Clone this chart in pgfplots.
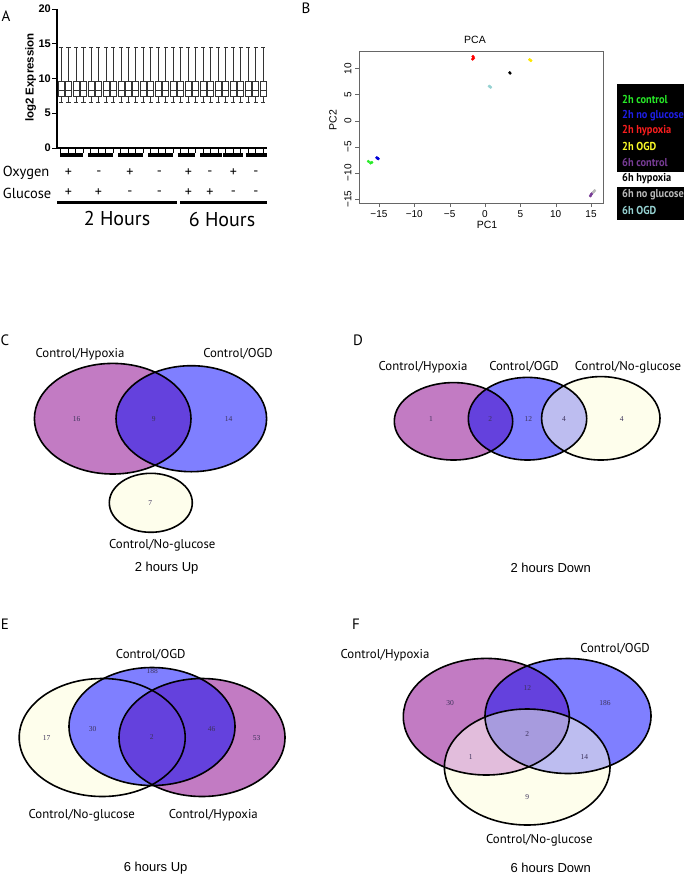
\documentclass[border=0pt]{standalone}
\usepackage{pgfplots}
\pgfplotsset{compat=1.18}
\usepgfplotslibrary{statistics}
\usepackage{fontspec}
\setmainfont{Liberation Sans}
\newfontfamily\myr{PT Sans}
\newfontfamily\tms{Liberation Serif}
\definecolor{vpink}{RGB}{194,123,195}
\definecolor{vblue}{RGB}{127,127,255}
\definecolor{vdark}{RGB}{100,65,221}
\definecolor{vyel}{RGB}{254,254,236}
\definecolor{vby}{RGB}{189,189,240}
\definecolor{vpy}{RGB}{226,189,220}
\definecolor{vall}{RGB}{167,155,222}
\definecolor{vnum}{RGB}{60,50,90}
\definecolor{lgreen}{RGB}{40,235,40}
\definecolor{lblue}{RGB}{30,30,230}
\definecolor{lred}{RGB}{250,30,30}
\definecolor{lyel}{RGB}{250,250,40}
\definecolor{lpur}{RGB}{120,60,150}
\definecolor{lgrey}{RGB}{185,185,185}
\definecolor{lcyan}{RGB}{150,210,210}
\newcommand\lf{\myr\bfseries\fontsize{11.5}{12}\selectfont}
\newcommand\hfnt{\fontsize{13}{14}\selectfont}
\tikzset{
  pl/.style={font=\myr\fontsize{15}{16}\selectfont},
  vl/.style={font=\myr\fontsize{12.8}{14}\selectfont},
  vn/.style={font=\tms\fontsize{7.5}{8}\selectfont, text=vnum},
}
\begin{document}
\begin{tikzpicture}[x=1pt,y=1pt]
\useasboundingbox (0,0) rectangle (684,-875);

% ---------- Panel A ----------
\begin{axis}[at={(57pt,-148pt)}, anchor=south west, scale only axis,
  width=210pt, height=139pt, xmin=0.47, xmax=28.5, ymin=0, ymax=20,
  axis lines*=left, axis line style={line width=1.2pt,-},
  xtick={1,...,28}, xticklabels={}, ytick={0,5,10,15,20},
  tick align=outside, major tick length=5pt,
  tick style={line width=1pt,black},
  yticklabel style={font=\fontsize{11}{12}\selectfont\bfseries, inner sep=1pt},
  /pgf/number format/assume math mode=true, clip=false]
\pgfplotsinvokeforeach{1,...,28}{
\addplot[black!80, line width=0.8pt, boxplot prepared={draw position=#1,
  draw direction=y, box extend=0.8, whisker extend=0.55,
  median=8.35, upper quartile=9.55, lower quartile=7.48,
  upper whisker=14.45, lower whisker=6.62}] coordinates {};
}
\end{axis}
\node[pl] at (6,-16) {A};
\node[rotate=90, font=\fontsize{11.5}{12}\selectfont\bfseries] at (30.7,-77.5) {log2 Expression};
\foreach \a/\b in {60/83.3, 88.3/113.3, 118.3/143.3, 148.3/173.3, 177.7/195, 200/221.7, 223.3/243.3, 245.7/266.7}
  \draw[line width=3.5pt] (\a,-155) -- (\b,-155);
\draw[line width=3pt] (57,-202) -- (177,-202);
\draw[line width=3pt] (180,-202) -- (267,-202);
\node[anchor=west, font=\myr\fontsize{14.5}{15}\selectfont, inner sep=0] at (2.7,-173) {Oxygen};
\node[anchor=west, font=\myr\fontsize{14.5}{15}\selectfont, inner sep=0] at (2.7,-193) {Glucose};
\foreach \x/\s in {68.3/+, 99/-, 130/+, 159.3/-, 188.3/+, 210/-, 233.3/+, 256/-}
  \node[font=\myr\fontsize{14}{15}\selectfont] at (\x,-173) {\s};
\foreach \x/\s in {68.3/+, 98.3/+, 130/-, 159.3/-, 188.3/+, 210/+, 233.3/-, 256/-}
  \node[font=\myr\fontsize{14}{15}\selectfont] at (\x,-193) {\s};
\node[font=\myr\fontsize{20}{22}\selectfont] at (117,-218.3) {2 Hours};
\node[font=\myr\fontsize{20}{22}\selectfont] at (222,-219.3) {6 Hours};

% ---------- Panel B ----------
\begin{axis}[at={(359pt,-203pt)}, anchor=south west, scale only axis,
  width=244pt, height=152pt, xmin=-17.82, xmax=16.69, ymin=-15.77, ymax=13.35,
  axis line style={black!60}, tick align=outside, tick pos=left,
  major tick length=4pt, tick style={black!60},
  xtick={-15,-10,...,15}, ytick={-15,-10,...,10},
  xticklabels={−15,−10,−5,0,5,10,15},
  yticklabels={−15,−10,−5,0,5,10},
  yticklabel style={rotate=90, anchor=south},
  ticklabel style={font=\fontsize{10}{11}\selectfont}]
\addplot[only marks, mark=*, mark size=1.3pt, color=lgreen] coordinates {(-16.5,-7.8) (-16.2,-8.1) (-16.0,-8.0)};
\addplot[only marks, mark=*, mark size=1.3pt, color=blue!85!black] coordinates {(-15.3,-7.1) (-15.1,-7.3) (-15.2,-7.2)};
\addplot[only marks, mark=*, mark size=1.3pt, color=red] coordinates {(-1.7,12.3) (-1.75,11.8) (-1.6,12.0)};
\addplot[only marks, mark=*, mark size=1.3pt, color=yellow!90!orange] coordinates {(6.4,11.6) (6.5,11.5) (6.3,11.7)};
\addplot[only marks, mark=*, mark size=1.3pt, color=lpur] coordinates {(15.0,-14.2) (15.1,-14.0) (14.9,-14.4)};
\addplot[only marks, mark=*, mark size=1.3pt, color=black] coordinates {(3.5,9.2) (3.55,9.1)};
\addplot[only marks, mark=*, mark size=1.3pt, color=lgrey] coordinates {(15.4,-13.6) (15.5,-13.4) (15.3,-13.7)};
\addplot[only marks, mark=*, mark size=1.3pt, color=lcyan] coordinates {(0.6,6.6) (0.8,6.4) (0.7,6.5)};
\end{axis}
\node[pl] at (306,-8) {B};
\node[font=\fontsize{10.5}{11}\selectfont] at (475,-40) {PCA};
\node[font=\fontsize{10.5}{11}\selectfont] at (487,-225) {PC1};
\node[rotate=90, font=\fontsize{10.5}{11}\selectfont] at (333,-120) {PC2};
% legend
\fill[black] (616.7,-84) rectangle (690,-220);
\fill[white] (616.7,-171.5) rectangle (690,-187);
\foreach \y/\c/\t in {99/lgreen/2h control, 115.7/lblue/2h no glucose, 130.7/lred/2h hypoxia, 146.7/lyel/2h OGD, 162.7/lpur/6h control, 179/black/6h hypoxia, 195/lgrey/6h no glucose, 210.7/lcyan/6h OGD}
  \node[anchor=west, inner sep=0, text=\c, font=\lf] at (622,-\y) {\scalebox{0.9}[1]{\t}};

% ---------- Panel C ----------
\def\CP{(112.7,-418.7) ellipse [x radius=78.3, y radius=55.3]}
\def\CB{(191.3,-418.7) ellipse [x radius=75.3, y radius=53]}
\def\CY{(150.8,-502.8) ellipse [x radius=41.5, y radius=29.5]}
\fill[vpink] \CP; \fill[vblue] \CB;
\begin{scope}\clip \CP; \fill[vdark] \CB; \end{scope}
\fill[vyel] \CY;
\draw[line width=1.6pt] \CP; \draw[line width=1.6pt] \CB; \draw[line width=1.6pt] \CY;
\node[pl] at (5,-340) {C};
\node[vl] at (80,-354) {Control/Hypoxia};
\node[vl] at (238,-354) {Control/OGD};
\node[vl] at (162.3,-545.7) {Control/No-glucose};
\node[font=\hfnt] at (166.7,-567.7) {2 hours Up};
\foreach \x/\y/\t in {76.7/419/16, 153.7/419/9, 228.7/419/14, 150.3/503/7}
  \node[vn] at (\x,-\y) {\t};

% ---------- Panel D ----------
\def\DP{(453.5,-421.3) ellipse [x radius=59.2, y radius=38.7]}
\def\DB{(527.5,-418.7) ellipse [x radius=59.2, y radius=41.3]}
\def\DY{(600.8,-418.3) ellipse [x radius=59.2, y radius=41.7]}
\fill[vpink] \DP; \fill[vblue] \DB; \fill[vyel] \DY;
\begin{scope}\clip \DP; \fill[vdark] \DB; \end{scope}
\begin{scope}\clip \DY; \fill[vby] \DB; \end{scope}
\draw[line width=1.6pt] \DP; \draw[line width=1.6pt] \DB; \draw[line width=1.6pt] \DY;
\node[pl] at (358,-340) {D};
\node[vl] at (423,-367) {Control/Hypoxia};
\node[vl] at (524,-367) {Control/OGD};
\node[vl] at (628,-367) {Control/No-glucose};
\node[font=\hfnt] at (550.7,-567.7) {2 hours Down};
\foreach \x/\t in {431/1, 490.3/2, 528.3/12, 564/4, 621.7/4}
  \node[vn] at (\x,-419.3) {\t};

% ---------- Panel E ----------
\def\EY{(102.2,-737.5) ellipse [x radius=83, y radius=59]}
\def\EP{(202,-737.5) ellipse [x radius=83, y radius=59]}
\def\EB{(152,-726.5) ellipse [x radius=83, y radius=59]}
\fill[vyel] \EY; \fill[vpink] \EP; \fill[vblue] \EB;
\begin{scope}\clip \EP; \fill[vdark] \EB; \end{scope}
\draw[line width=1.6pt] \EY; \draw[line width=1.6pt] \EP; \draw[line width=1.6pt] \EB;
\node[pl] at (5,-624) {E};
\node[vl] at (150.7,-655) {Control/OGD};
\node[vl] at (81.7,-815) {Control/No-glucose};
\node[vl] at (213.3,-815) {Control/Hypoxia};
\node[font=\hfnt] at (155.7,-867.7) {6 hours Up};
\foreach \x/\y/\t in {152.3/671/188, 92.7/729/30, 46.7/738.3/17, 151.7/736.7/2, 211.7/729/46, 256.7/738.3/53}
  \node[vn] at (\x,-\y) {\t};

% ---------- Panel F ----------
\def\FP{(486.3,-716.7) ellipse [x radius=83, y radius=58.3]}
\def\FB{(568,-716) ellipse [x radius=83, y radius=57.5]}
\def\FY{(527.2,-767) ellipse [x radius=82.8, y radius=58]}
\fill[vpink] \FP; \fill[vblue] \FB;
\begin{scope}\clip \FP; \fill[vdark] \FB; \end{scope}
\begin{scope}\clip \FY; \fill[vyel] \FY;
  \begin{scope}\clip \FP; \fill[vpy] \FY; \end{scope}
  \begin{scope}\clip \FB; \fill[vby] \FY; \end{scope}
  \begin{scope}\clip \FP; \clip \FB; \fill[vall] \FY; \end{scope}
\end{scope}
\draw[line width=1.6pt] \FP; \draw[line width=1.6pt] \FB; \draw[line width=1.6pt] \FY;
\node[pl] at (356,-624.3) {F};
\node[vl] at (385,-655) {Control/Hypoxia};
\node[vl] at (615,-649.3) {Control/OGD};
\node[vl] at (539.3,-840) {Control/No-glucose};
\node[font=\hfnt] at (550.7,-867.7) {6 hours Down};
\foreach \x/\y/\t in {527.3/687.7/12, 450/702.7/30, 605/702.7/186, 527.3/734/2, 470.7/757.3/1, 584.3/757.3/14, 527.3/796.7/9}
  \node[vn] at (\x,-\y) {\t};
\end{tikzpicture}
\end{document}
